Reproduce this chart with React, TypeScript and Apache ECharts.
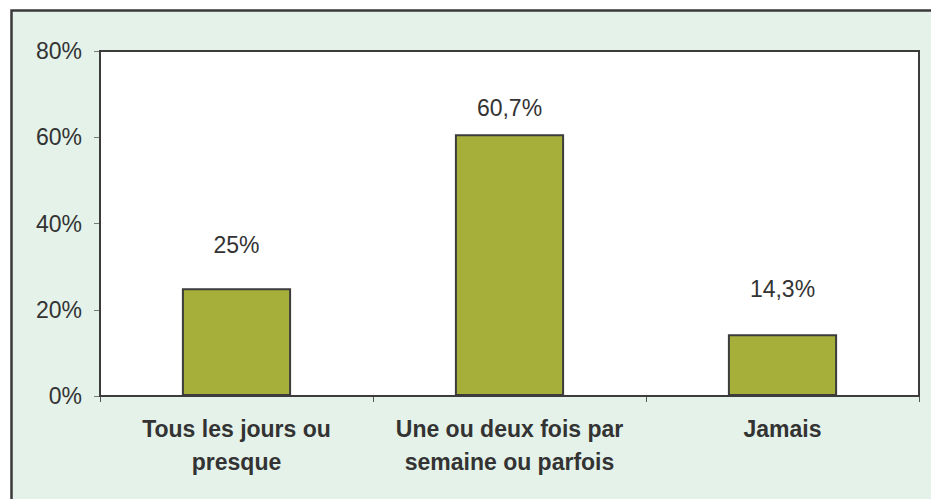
import React, { useEffect, useRef } from "react";
import * as echarts from "echarts";

const categories = ["Tous les jours ou\npresque", "Une ou deux fois par\nsemaine ou parfois", "Jamais"];
const values = [25, 60.7, 14.3];
const labelDistances = [32, 15, 34];
const yTicks = [0, 20, 40, 60, 80];

export default function App() {
  const ref = useRef<HTMLDivElement>(null);
  useEffect(() => {
    if (!ref.current) return;
    const chart = echarts.init(ref.current, null, { renderer: "svg" });
    const font = "'Liberation Sans', Arial, sans-serif";
    chart.setOption({
      animation: false,
      backgroundColor: "#ffffff",
      graphic: [
        {
          type: "rect",
          z: -10,
          silent: true,
          shape: { x: 11.5, y: 10.5, width: 1000, height: 1000 },
          style: { fill: "#E4F2E9", stroke: "#3a3a3a", lineWidth: 2.5 },
        },
      ],
      grid: {
        left: 100,
        top: 51,
        right: 12,
        bottom: 103,
        show: true,
        backgroundColor: "#ffffff",
        borderColor: "#3c3c3c",
        borderWidth: 2,
        z: 1,
      },
      xAxis: {
        type: "category",
        data: categories,
        axisLine: { show: true, lineStyle: { color: "#3c3c3c", width: 2 } },
        axisTick: { show: true, alignWithLabel: false, length: 6, lineStyle: { color: "#555", width: 1 } },
        axisLabel: {
          color: "#333333",
          fontFamily: font,
          fontSize: 23,
          fontWeight: "bold",
          lineHeight: 33,
          margin: 16,
          interval: 0,
        },
      },
      yAxis: {
        type: "value",
        min: 0,
        max: yTicks[yTicks.length - 1],
        interval: 20,
        splitLine: { show: false },
        axisLine: { show: true, lineStyle: { color: "#3c3c3c", width: 2 } },
        axisTick: { show: true, length: 6, lineStyle: { color: "#777", width: 1 } },
        axisLabel: {
          color: "#333333",
          fontFamily: font,
          fontSize: 23,
          margin: 18,
          formatter: (v: number) => v + "%",
        },
      },
      series: [
        {
          type: "bar",
          barWidth: "40%",
          data: values.map((v, i) => ({
            value: v,
            label: { distance: labelDistances[i] },
          })),
          itemStyle: { color: "#A7AF3B", borderColor: "#3c3c3c", borderWidth: 2 },
          label: {
            show: true,
            position: "top",
            color: "#333333",
            fontFamily: font,
            fontSize: 23,
            formatter: (p: any) => String(p.value).replace(".", ",") + "%",
          },
        },
      ],
    });
    return () => chart.dispose();
  }, []);
  return (
    <div
      ref={ref}
      style={{ position: "fixed", left: 0, top: 0, width: 931, height: 499 }}
    />
  );
}
